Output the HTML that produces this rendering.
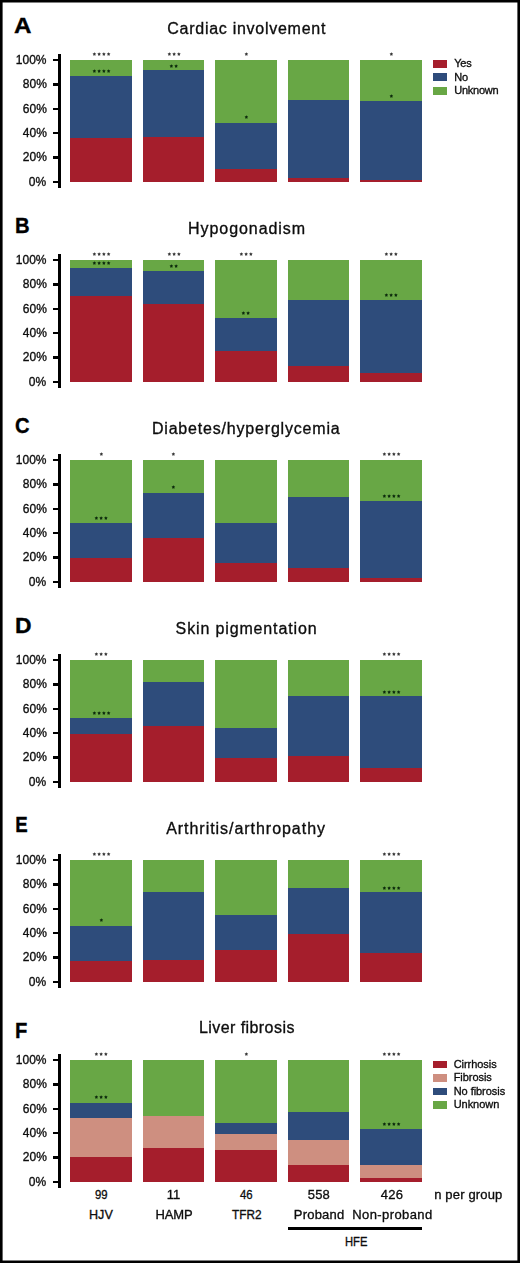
<!DOCTYPE html>
<html><head><meta charset="utf-8"><style>
html,body{margin:0;padding:0;background:#fff;}
body{width:520px;height:1263px;position:relative;overflow:hidden;font-family:"Liberation Sans", sans-serif;}
.t{position:absolute;white-space:nowrap;-webkit-text-stroke:0.33px currentColor;transform:translateZ(0);}
.r{position:absolute;}
.s{position:absolute;overflow:visible;}
.frame{position:absolute;left:0;top:0;width:520px;height:1263px;box-sizing:border-box;border:2px solid #000;box-shadow:inset 0 0 0 0.6px #000;}
</style></head><body>
<div class="r" style="left:58.30px;top:54.20px;width:2.60px;height:134.10px;background:#000;"></div>
<div class="r" style="left:52.70px;top:59.10px;width:5.80px;height:2.25px;background:#000;"></div>
<div class="r" style="left:52.70px;top:83.40px;width:5.80px;height:2.25px;background:#000;"></div>
<div class="r" style="left:52.70px;top:107.70px;width:5.80px;height:2.25px;background:#000;"></div>
<div class="r" style="left:52.70px;top:132.00px;width:5.80px;height:2.25px;background:#000;"></div>
<div class="r" style="left:52.70px;top:156.30px;width:5.80px;height:2.25px;background:#000;"></div>
<div class="r" style="left:52.70px;top:180.60px;width:5.80px;height:2.25px;background:#000;"></div>
<div class="r" style="left:70.40px;top:59.70px;width:61.50px;height:121.90px;background:#a51e2c;"></div>
<div class="r" style="left:70.40px;top:59.70px;width:61.50px;height:78.20px;background:#2e4c7b;"></div>
<div class="r" style="left:70.40px;top:59.70px;width:61.50px;height:16.80px;background:#68a745;"></div>
<svg class="s" style="left:89.65px;top:50.30px" width="23.00" height="8" fill="#383838"><polygon points="4.38,2.25 4.96,3.34 6.18,3.56 5.33,4.46 5.49,5.69 4.38,5.15 3.26,5.69 3.42,4.46 2.57,3.56 3.79,3.34"/><polygon points="9.12,2.25 9.71,3.34 10.93,3.56 10.08,4.46 10.24,5.69 9.12,5.15 8.01,5.69 8.17,4.46 7.32,3.56 8.54,3.34"/><polygon points="13.88,2.25 14.46,3.34 15.68,3.56 14.83,4.46 14.99,5.69 13.88,5.15 12.76,5.69 12.92,4.46 12.07,3.56 13.29,3.34"/><polygon points="18.62,2.25 19.21,3.34 20.43,3.56 19.58,4.46 19.74,5.69 18.62,5.15 17.51,5.69 17.67,4.46 16.82,3.56 18.04,3.34"/></svg>
<svg class="s" style="left:89.65px;top:67.20px" width="23.00" height="8" fill="#0c2a0c"><polygon points="4.38,2.25 4.96,3.34 6.18,3.56 5.33,4.46 5.49,5.69 4.38,5.15 3.26,5.69 3.42,4.46 2.57,3.56 3.79,3.34"/><polygon points="9.12,2.25 9.71,3.34 10.93,3.56 10.08,4.46 10.24,5.69 9.12,5.15 8.01,5.69 8.17,4.46 7.32,3.56 8.54,3.34"/><polygon points="13.88,2.25 14.46,3.34 15.68,3.56 14.83,4.46 14.99,5.69 13.88,5.15 12.76,5.69 12.92,4.46 12.07,3.56 13.29,3.34"/><polygon points="18.62,2.25 19.21,3.34 20.43,3.56 19.58,4.46 19.74,5.69 18.62,5.15 17.51,5.69 17.67,4.46 16.82,3.56 18.04,3.34"/></svg>
<div class="r" style="left:142.90px;top:59.70px;width:61.50px;height:121.90px;background:#a51e2c;"></div>
<div class="r" style="left:142.90px;top:59.70px;width:61.50px;height:77.70px;background:#2e4c7b;"></div>
<div class="r" style="left:142.90px;top:59.70px;width:61.50px;height:10.70px;background:#68a745;"></div>
<svg class="s" style="left:164.53px;top:50.30px" width="18.25" height="8" fill="#383838"><polygon points="4.38,2.25 4.96,3.34 6.18,3.56 5.33,4.46 5.49,5.69 4.38,5.15 3.26,5.69 3.42,4.46 2.57,3.56 3.79,3.34"/><polygon points="9.12,2.25 9.71,3.34 10.93,3.56 10.08,4.46 10.24,5.69 9.12,5.15 8.01,5.69 8.17,4.46 7.32,3.56 8.54,3.34"/><polygon points="13.88,2.25 14.46,3.34 15.68,3.56 14.83,4.46 14.99,5.69 13.88,5.15 12.76,5.69 12.92,4.46 12.07,3.56 13.29,3.34"/></svg>
<svg class="s" style="left:166.90px;top:61.50px" width="13.50" height="8" fill="#0c2a0c"><polygon points="4.38,2.25 4.96,3.34 6.18,3.56 5.33,4.46 5.49,5.69 4.38,5.15 3.26,5.69 3.42,4.46 2.57,3.56 3.79,3.34"/><polygon points="9.12,2.25 9.71,3.34 10.93,3.56 10.08,4.46 10.24,5.69 9.12,5.15 8.01,5.69 8.17,4.46 7.32,3.56 8.54,3.34"/></svg>
<div class="r" style="left:215.40px;top:59.70px;width:61.50px;height:121.90px;background:#a51e2c;"></div>
<div class="r" style="left:215.40px;top:59.70px;width:61.50px;height:109.10px;background:#2e4c7b;"></div>
<div class="r" style="left:215.40px;top:59.70px;width:61.50px;height:63.50px;background:#68a745;"></div>
<svg class="s" style="left:241.78px;top:50.30px" width="8.75" height="8" fill="#383838"><polygon points="4.38,2.25 4.96,3.34 6.18,3.56 5.33,4.46 5.49,5.69 4.38,5.15 3.26,5.69 3.42,4.46 2.57,3.56 3.79,3.34"/></svg>
<svg class="s" style="left:241.78px;top:113.30px" width="8.75" height="8" fill="#0c2a0c"><polygon points="4.38,2.25 4.96,3.34 6.18,3.56 5.33,4.46 5.49,5.69 4.38,5.15 3.26,5.69 3.42,4.46 2.57,3.56 3.79,3.34"/></svg>
<div class="r" style="left:287.90px;top:59.70px;width:61.50px;height:121.90px;background:#a51e2c;"></div>
<div class="r" style="left:287.90px;top:59.70px;width:61.50px;height:118.40px;background:#2e4c7b;"></div>
<div class="r" style="left:287.90px;top:59.70px;width:61.50px;height:40.70px;background:#68a745;"></div>
<div class="r" style="left:360.40px;top:59.70px;width:61.50px;height:121.90px;background:#a51e2c;"></div>
<div class="r" style="left:360.40px;top:59.70px;width:61.50px;height:120.30px;background:#2e4c7b;"></div>
<div class="r" style="left:360.40px;top:59.70px;width:61.50px;height:41.10px;background:#68a745;"></div>
<svg class="s" style="left:386.77px;top:50.30px" width="8.75" height="8" fill="#383838"><polygon points="4.38,2.25 4.96,3.34 6.18,3.56 5.33,4.46 5.49,5.69 4.38,5.15 3.26,5.69 3.42,4.46 2.57,3.56 3.79,3.34"/></svg>
<svg class="s" style="left:386.77px;top:92.20px" width="8.75" height="8" fill="#0c2a0c"><polygon points="4.38,2.25 4.96,3.34 6.18,3.56 5.33,4.46 5.49,5.69 4.38,5.15 3.26,5.69 3.42,4.46 2.57,3.56 3.79,3.34"/></svg>
<div class="r" style="left:432.50px;top:60.00px;width:14.40px;height:7.70px;background:#a51e2c;"></div>
<div class="r" style="left:432.50px;top:73.45px;width:14.40px;height:7.70px;background:#2e4c7b;"></div>
<div class="r" style="left:432.50px;top:86.90px;width:14.40px;height:7.70px;background:#68a745;"></div>
<div class="r" style="left:58.30px;top:254.20px;width:2.60px;height:134.10px;background:#000;"></div>
<div class="r" style="left:52.70px;top:259.10px;width:5.80px;height:2.25px;background:#000;"></div>
<div class="r" style="left:52.70px;top:283.40px;width:5.80px;height:2.25px;background:#000;"></div>
<div class="r" style="left:52.70px;top:307.70px;width:5.80px;height:2.25px;background:#000;"></div>
<div class="r" style="left:52.70px;top:332.00px;width:5.80px;height:2.25px;background:#000;"></div>
<div class="r" style="left:52.70px;top:356.30px;width:5.80px;height:2.25px;background:#000;"></div>
<div class="r" style="left:52.70px;top:380.60px;width:5.80px;height:2.25px;background:#000;"></div>
<div class="r" style="left:70.40px;top:259.70px;width:61.50px;height:121.90px;background:#a51e2c;"></div>
<div class="r" style="left:70.40px;top:259.70px;width:61.50px;height:36.50px;background:#2e4c7b;"></div>
<div class="r" style="left:70.40px;top:259.70px;width:61.50px;height:8.40px;background:#68a745;"></div>
<svg class="s" style="left:89.65px;top:250.30px" width="23.00" height="8" fill="#383838"><polygon points="4.38,2.25 4.96,3.34 6.18,3.56 5.33,4.46 5.49,5.69 4.38,5.15 3.26,5.69 3.42,4.46 2.57,3.56 3.79,3.34"/><polygon points="9.12,2.25 9.71,3.34 10.93,3.56 10.08,4.46 10.24,5.69 9.12,5.15 8.01,5.69 8.17,4.46 7.32,3.56 8.54,3.34"/><polygon points="13.88,2.25 14.46,3.34 15.68,3.56 14.83,4.46 14.99,5.69 13.88,5.15 12.76,5.69 12.92,4.46 12.07,3.56 13.29,3.34"/><polygon points="18.62,2.25 19.21,3.34 20.43,3.56 19.58,4.46 19.74,5.69 18.62,5.15 17.51,5.69 17.67,4.46 16.82,3.56 18.04,3.34"/></svg>
<svg class="s" style="left:89.65px;top:258.50px" width="23.00" height="8" fill="#0c2a0c"><polygon points="4.38,2.25 4.96,3.34 6.18,3.56 5.33,4.46 5.49,5.69 4.38,5.15 3.26,5.69 3.42,4.46 2.57,3.56 3.79,3.34"/><polygon points="9.12,2.25 9.71,3.34 10.93,3.56 10.08,4.46 10.24,5.69 9.12,5.15 8.01,5.69 8.17,4.46 7.32,3.56 8.54,3.34"/><polygon points="13.88,2.25 14.46,3.34 15.68,3.56 14.83,4.46 14.99,5.69 13.88,5.15 12.76,5.69 12.92,4.46 12.07,3.56 13.29,3.34"/><polygon points="18.62,2.25 19.21,3.34 20.43,3.56 19.58,4.46 19.74,5.69 18.62,5.15 17.51,5.69 17.67,4.46 16.82,3.56 18.04,3.34"/></svg>
<div class="r" style="left:142.90px;top:259.70px;width:61.50px;height:121.90px;background:#a51e2c;"></div>
<div class="r" style="left:142.90px;top:259.70px;width:61.50px;height:44.80px;background:#2e4c7b;"></div>
<div class="r" style="left:142.90px;top:259.70px;width:61.50px;height:11.50px;background:#68a745;"></div>
<svg class="s" style="left:164.53px;top:250.30px" width="18.25" height="8" fill="#383838"><polygon points="4.38,2.25 4.96,3.34 6.18,3.56 5.33,4.46 5.49,5.69 4.38,5.15 3.26,5.69 3.42,4.46 2.57,3.56 3.79,3.34"/><polygon points="9.12,2.25 9.71,3.34 10.93,3.56 10.08,4.46 10.24,5.69 9.12,5.15 8.01,5.69 8.17,4.46 7.32,3.56 8.54,3.34"/><polygon points="13.88,2.25 14.46,3.34 15.68,3.56 14.83,4.46 14.99,5.69 13.88,5.15 12.76,5.69 12.92,4.46 12.07,3.56 13.29,3.34"/></svg>
<svg class="s" style="left:166.90px;top:261.50px" width="13.50" height="8" fill="#0c2a0c"><polygon points="4.38,2.25 4.96,3.34 6.18,3.56 5.33,4.46 5.49,5.69 4.38,5.15 3.26,5.69 3.42,4.46 2.57,3.56 3.79,3.34"/><polygon points="9.12,2.25 9.71,3.34 10.93,3.56 10.08,4.46 10.24,5.69 9.12,5.15 8.01,5.69 8.17,4.46 7.32,3.56 8.54,3.34"/></svg>
<div class="r" style="left:215.40px;top:259.70px;width:61.50px;height:121.90px;background:#a51e2c;"></div>
<div class="r" style="left:215.40px;top:259.70px;width:61.50px;height:91.50px;background:#2e4c7b;"></div>
<div class="r" style="left:215.40px;top:259.70px;width:61.50px;height:58.80px;background:#68a745;"></div>
<svg class="s" style="left:237.03px;top:250.30px" width="18.25" height="8" fill="#383838"><polygon points="4.38,2.25 4.96,3.34 6.18,3.56 5.33,4.46 5.49,5.69 4.38,5.15 3.26,5.69 3.42,4.46 2.57,3.56 3.79,3.34"/><polygon points="9.12,2.25 9.71,3.34 10.93,3.56 10.08,4.46 10.24,5.69 9.12,5.15 8.01,5.69 8.17,4.46 7.32,3.56 8.54,3.34"/><polygon points="13.88,2.25 14.46,3.34 15.68,3.56 14.83,4.46 14.99,5.69 13.88,5.15 12.76,5.69 12.92,4.46 12.07,3.56 13.29,3.34"/></svg>
<svg class="s" style="left:239.40px;top:308.50px" width="13.50" height="8" fill="#0c2a0c"><polygon points="4.38,2.25 4.96,3.34 6.18,3.56 5.33,4.46 5.49,5.69 4.38,5.15 3.26,5.69 3.42,4.46 2.57,3.56 3.79,3.34"/><polygon points="9.12,2.25 9.71,3.34 10.93,3.56 10.08,4.46 10.24,5.69 9.12,5.15 8.01,5.69 8.17,4.46 7.32,3.56 8.54,3.34"/></svg>
<div class="r" style="left:287.90px;top:259.70px;width:61.50px;height:121.90px;background:#a51e2c;"></div>
<div class="r" style="left:287.90px;top:259.70px;width:61.50px;height:106.10px;background:#2e4c7b;"></div>
<div class="r" style="left:287.90px;top:259.70px;width:61.50px;height:40.70px;background:#68a745;"></div>
<div class="r" style="left:360.40px;top:259.70px;width:61.50px;height:121.90px;background:#a51e2c;"></div>
<div class="r" style="left:360.40px;top:259.70px;width:61.50px;height:113.10px;background:#2e4c7b;"></div>
<div class="r" style="left:360.40px;top:259.70px;width:61.50px;height:40.60px;background:#68a745;"></div>
<svg class="s" style="left:382.02px;top:250.30px" width="18.25" height="8" fill="#383838"><polygon points="4.38,2.25 4.96,3.34 6.18,3.56 5.33,4.46 5.49,5.69 4.38,5.15 3.26,5.69 3.42,4.46 2.57,3.56 3.79,3.34"/><polygon points="9.12,2.25 9.71,3.34 10.93,3.56 10.08,4.46 10.24,5.69 9.12,5.15 8.01,5.69 8.17,4.46 7.32,3.56 8.54,3.34"/><polygon points="13.88,2.25 14.46,3.34 15.68,3.56 14.83,4.46 14.99,5.69 13.88,5.15 12.76,5.69 12.92,4.46 12.07,3.56 13.29,3.34"/></svg>
<svg class="s" style="left:382.02px;top:290.80px" width="18.25" height="8" fill="#0c2a0c"><polygon points="4.38,2.25 4.96,3.34 6.18,3.56 5.33,4.46 5.49,5.69 4.38,5.15 3.26,5.69 3.42,4.46 2.57,3.56 3.79,3.34"/><polygon points="9.12,2.25 9.71,3.34 10.93,3.56 10.08,4.46 10.24,5.69 9.12,5.15 8.01,5.69 8.17,4.46 7.32,3.56 8.54,3.34"/><polygon points="13.88,2.25 14.46,3.34 15.68,3.56 14.83,4.46 14.99,5.69 13.88,5.15 12.76,5.69 12.92,4.46 12.07,3.56 13.29,3.34"/></svg>
<div class="r" style="left:58.30px;top:454.20px;width:2.60px;height:134.10px;background:#000;"></div>
<div class="r" style="left:52.70px;top:459.10px;width:5.80px;height:2.25px;background:#000;"></div>
<div class="r" style="left:52.70px;top:483.40px;width:5.80px;height:2.25px;background:#000;"></div>
<div class="r" style="left:52.70px;top:507.70px;width:5.80px;height:2.25px;background:#000;"></div>
<div class="r" style="left:52.70px;top:532.00px;width:5.80px;height:2.25px;background:#000;"></div>
<div class="r" style="left:52.70px;top:556.30px;width:5.80px;height:2.25px;background:#000;"></div>
<div class="r" style="left:52.70px;top:580.60px;width:5.80px;height:2.25px;background:#000;"></div>
<div class="r" style="left:70.40px;top:459.70px;width:61.50px;height:121.90px;background:#a51e2c;"></div>
<div class="r" style="left:70.40px;top:459.70px;width:61.50px;height:98.80px;background:#2e4c7b;"></div>
<div class="r" style="left:70.40px;top:459.70px;width:61.50px;height:63.50px;background:#68a745;"></div>
<svg class="s" style="left:96.78px;top:450.30px" width="8.75" height="8" fill="#383838"><polygon points="4.38,2.25 4.96,3.34 6.18,3.56 5.33,4.46 5.49,5.69 4.38,5.15 3.26,5.69 3.42,4.46 2.57,3.56 3.79,3.34"/></svg>
<svg class="s" style="left:92.03px;top:514.00px" width="18.25" height="8" fill="#0c2a0c"><polygon points="4.38,2.25 4.96,3.34 6.18,3.56 5.33,4.46 5.49,5.69 4.38,5.15 3.26,5.69 3.42,4.46 2.57,3.56 3.79,3.34"/><polygon points="9.12,2.25 9.71,3.34 10.93,3.56 10.08,4.46 10.24,5.69 9.12,5.15 8.01,5.69 8.17,4.46 7.32,3.56 8.54,3.34"/><polygon points="13.88,2.25 14.46,3.34 15.68,3.56 14.83,4.46 14.99,5.69 13.88,5.15 12.76,5.69 12.92,4.46 12.07,3.56 13.29,3.34"/></svg>
<div class="r" style="left:142.90px;top:459.70px;width:61.50px;height:121.90px;background:#a51e2c;"></div>
<div class="r" style="left:142.90px;top:459.70px;width:61.50px;height:78.40px;background:#2e4c7b;"></div>
<div class="r" style="left:142.90px;top:459.70px;width:61.50px;height:33.00px;background:#68a745;"></div>
<svg class="s" style="left:169.28px;top:450.30px" width="8.75" height="8" fill="#383838"><polygon points="4.38,2.25 4.96,3.34 6.18,3.56 5.33,4.46 5.49,5.69 4.38,5.15 3.26,5.69 3.42,4.46 2.57,3.56 3.79,3.34"/></svg>
<svg class="s" style="left:169.28px;top:483.40px" width="8.75" height="8" fill="#0c2a0c"><polygon points="4.38,2.25 4.96,3.34 6.18,3.56 5.33,4.46 5.49,5.69 4.38,5.15 3.26,5.69 3.42,4.46 2.57,3.56 3.79,3.34"/></svg>
<div class="r" style="left:215.40px;top:459.70px;width:61.50px;height:121.90px;background:#a51e2c;"></div>
<div class="r" style="left:215.40px;top:459.70px;width:61.50px;height:103.80px;background:#2e4c7b;"></div>
<div class="r" style="left:215.40px;top:459.70px;width:61.50px;height:63.50px;background:#68a745;"></div>
<div class="r" style="left:287.90px;top:459.70px;width:61.50px;height:121.90px;background:#a51e2c;"></div>
<div class="r" style="left:287.90px;top:459.70px;width:61.50px;height:108.80px;background:#2e4c7b;"></div>
<div class="r" style="left:287.90px;top:459.70px;width:61.50px;height:37.10px;background:#68a745;"></div>
<div class="r" style="left:360.40px;top:459.70px;width:61.50px;height:121.90px;background:#a51e2c;"></div>
<div class="r" style="left:360.40px;top:459.70px;width:61.50px;height:118.40px;background:#2e4c7b;"></div>
<div class="r" style="left:360.40px;top:459.70px;width:61.50px;height:41.30px;background:#68a745;"></div>
<svg class="s" style="left:379.65px;top:450.30px" width="23.00" height="8" fill="#383838"><polygon points="4.38,2.25 4.96,3.34 6.18,3.56 5.33,4.46 5.49,5.69 4.38,5.15 3.26,5.69 3.42,4.46 2.57,3.56 3.79,3.34"/><polygon points="9.12,2.25 9.71,3.34 10.93,3.56 10.08,4.46 10.24,5.69 9.12,5.15 8.01,5.69 8.17,4.46 7.32,3.56 8.54,3.34"/><polygon points="13.88,2.25 14.46,3.34 15.68,3.56 14.83,4.46 14.99,5.69 13.88,5.15 12.76,5.69 12.92,4.46 12.07,3.56 13.29,3.34"/><polygon points="18.62,2.25 19.21,3.34 20.43,3.56 19.58,4.46 19.74,5.69 18.62,5.15 17.51,5.69 17.67,4.46 16.82,3.56 18.04,3.34"/></svg>
<svg class="s" style="left:379.65px;top:491.90px" width="23.00" height="8" fill="#0c2a0c"><polygon points="4.38,2.25 4.96,3.34 6.18,3.56 5.33,4.46 5.49,5.69 4.38,5.15 3.26,5.69 3.42,4.46 2.57,3.56 3.79,3.34"/><polygon points="9.12,2.25 9.71,3.34 10.93,3.56 10.08,4.46 10.24,5.69 9.12,5.15 8.01,5.69 8.17,4.46 7.32,3.56 8.54,3.34"/><polygon points="13.88,2.25 14.46,3.34 15.68,3.56 14.83,4.46 14.99,5.69 13.88,5.15 12.76,5.69 12.92,4.46 12.07,3.56 13.29,3.34"/><polygon points="18.62,2.25 19.21,3.34 20.43,3.56 19.58,4.46 19.74,5.69 18.62,5.15 17.51,5.69 17.67,4.46 16.82,3.56 18.04,3.34"/></svg>
<div class="r" style="left:58.30px;top:654.20px;width:2.60px;height:134.10px;background:#000;"></div>
<div class="r" style="left:52.70px;top:659.10px;width:5.80px;height:2.25px;background:#000;"></div>
<div class="r" style="left:52.70px;top:683.40px;width:5.80px;height:2.25px;background:#000;"></div>
<div class="r" style="left:52.70px;top:707.70px;width:5.80px;height:2.25px;background:#000;"></div>
<div class="r" style="left:52.70px;top:732.00px;width:5.80px;height:2.25px;background:#000;"></div>
<div class="r" style="left:52.70px;top:756.30px;width:5.80px;height:2.25px;background:#000;"></div>
<div class="r" style="left:52.70px;top:780.60px;width:5.80px;height:2.25px;background:#000;"></div>
<div class="r" style="left:70.40px;top:659.70px;width:61.50px;height:121.90px;background:#a51e2c;"></div>
<div class="r" style="left:70.40px;top:659.70px;width:61.50px;height:74.20px;background:#2e4c7b;"></div>
<div class="r" style="left:70.40px;top:659.70px;width:61.50px;height:58.80px;background:#68a745;"></div>
<svg class="s" style="left:92.03px;top:650.30px" width="18.25" height="8" fill="#383838"><polygon points="4.38,2.25 4.96,3.34 6.18,3.56 5.33,4.46 5.49,5.69 4.38,5.15 3.26,5.69 3.42,4.46 2.57,3.56 3.79,3.34"/><polygon points="9.12,2.25 9.71,3.34 10.93,3.56 10.08,4.46 10.24,5.69 9.12,5.15 8.01,5.69 8.17,4.46 7.32,3.56 8.54,3.34"/><polygon points="13.88,2.25 14.46,3.34 15.68,3.56 14.83,4.46 14.99,5.69 13.88,5.15 12.76,5.69 12.92,4.46 12.07,3.56 13.29,3.34"/></svg>
<svg class="s" style="left:89.65px;top:709.30px" width="23.00" height="8" fill="#0c2a0c"><polygon points="4.38,2.25 4.96,3.34 6.18,3.56 5.33,4.46 5.49,5.69 4.38,5.15 3.26,5.69 3.42,4.46 2.57,3.56 3.79,3.34"/><polygon points="9.12,2.25 9.71,3.34 10.93,3.56 10.08,4.46 10.24,5.69 9.12,5.15 8.01,5.69 8.17,4.46 7.32,3.56 8.54,3.34"/><polygon points="13.88,2.25 14.46,3.34 15.68,3.56 14.83,4.46 14.99,5.69 13.88,5.15 12.76,5.69 12.92,4.46 12.07,3.56 13.29,3.34"/><polygon points="18.62,2.25 19.21,3.34 20.43,3.56 19.58,4.46 19.74,5.69 18.62,5.15 17.51,5.69 17.67,4.46 16.82,3.56 18.04,3.34"/></svg>
<div class="r" style="left:142.90px;top:659.70px;width:61.50px;height:121.90px;background:#a51e2c;"></div>
<div class="r" style="left:142.90px;top:659.70px;width:61.50px;height:66.50px;background:#2e4c7b;"></div>
<div class="r" style="left:142.90px;top:659.70px;width:61.50px;height:22.70px;background:#68a745;"></div>
<div class="r" style="left:215.40px;top:659.70px;width:61.50px;height:121.90px;background:#a51e2c;"></div>
<div class="r" style="left:215.40px;top:659.70px;width:61.50px;height:98.70px;background:#2e4c7b;"></div>
<div class="r" style="left:215.40px;top:659.70px;width:61.50px;height:68.80px;background:#68a745;"></div>
<div class="r" style="left:287.90px;top:659.70px;width:61.50px;height:121.90px;background:#a51e2c;"></div>
<div class="r" style="left:287.90px;top:659.70px;width:61.50px;height:96.10px;background:#2e4c7b;"></div>
<div class="r" style="left:287.90px;top:659.70px;width:61.50px;height:36.50px;background:#68a745;"></div>
<div class="r" style="left:360.40px;top:659.70px;width:61.50px;height:121.90px;background:#a51e2c;"></div>
<div class="r" style="left:360.40px;top:659.70px;width:61.50px;height:108.50px;background:#2e4c7b;"></div>
<div class="r" style="left:360.40px;top:659.70px;width:61.50px;height:36.50px;background:#68a745;"></div>
<svg class="s" style="left:379.65px;top:650.30px" width="23.00" height="8" fill="#383838"><polygon points="4.38,2.25 4.96,3.34 6.18,3.56 5.33,4.46 5.49,5.69 4.38,5.15 3.26,5.69 3.42,4.46 2.57,3.56 3.79,3.34"/><polygon points="9.12,2.25 9.71,3.34 10.93,3.56 10.08,4.46 10.24,5.69 9.12,5.15 8.01,5.69 8.17,4.46 7.32,3.56 8.54,3.34"/><polygon points="13.88,2.25 14.46,3.34 15.68,3.56 14.83,4.46 14.99,5.69 13.88,5.15 12.76,5.69 12.92,4.46 12.07,3.56 13.29,3.34"/><polygon points="18.62,2.25 19.21,3.34 20.43,3.56 19.58,4.46 19.74,5.69 18.62,5.15 17.51,5.69 17.67,4.46 16.82,3.56 18.04,3.34"/></svg>
<svg class="s" style="left:379.65px;top:687.60px" width="23.00" height="8" fill="#0c2a0c"><polygon points="4.38,2.25 4.96,3.34 6.18,3.56 5.33,4.46 5.49,5.69 4.38,5.15 3.26,5.69 3.42,4.46 2.57,3.56 3.79,3.34"/><polygon points="9.12,2.25 9.71,3.34 10.93,3.56 10.08,4.46 10.24,5.69 9.12,5.15 8.01,5.69 8.17,4.46 7.32,3.56 8.54,3.34"/><polygon points="13.88,2.25 14.46,3.34 15.68,3.56 14.83,4.46 14.99,5.69 13.88,5.15 12.76,5.69 12.92,4.46 12.07,3.56 13.29,3.34"/><polygon points="18.62,2.25 19.21,3.34 20.43,3.56 19.58,4.46 19.74,5.69 18.62,5.15 17.51,5.69 17.67,4.46 16.82,3.56 18.04,3.34"/></svg>
<div class="r" style="left:58.30px;top:854.20px;width:2.60px;height:134.10px;background:#000;"></div>
<div class="r" style="left:52.70px;top:859.10px;width:5.80px;height:2.25px;background:#000;"></div>
<div class="r" style="left:52.70px;top:883.40px;width:5.80px;height:2.25px;background:#000;"></div>
<div class="r" style="left:52.70px;top:907.70px;width:5.80px;height:2.25px;background:#000;"></div>
<div class="r" style="left:52.70px;top:932.00px;width:5.80px;height:2.25px;background:#000;"></div>
<div class="r" style="left:52.70px;top:956.30px;width:5.80px;height:2.25px;background:#000;"></div>
<div class="r" style="left:52.70px;top:980.60px;width:5.80px;height:2.25px;background:#000;"></div>
<div class="r" style="left:70.40px;top:859.70px;width:61.50px;height:121.90px;background:#a51e2c;"></div>
<div class="r" style="left:70.40px;top:859.70px;width:61.50px;height:101.50px;background:#2e4c7b;"></div>
<div class="r" style="left:70.40px;top:859.70px;width:61.50px;height:66.10px;background:#68a745;"></div>
<svg class="s" style="left:89.65px;top:850.30px" width="23.00" height="8" fill="#383838"><polygon points="4.38,2.25 4.96,3.34 6.18,3.56 5.33,4.46 5.49,5.69 4.38,5.15 3.26,5.69 3.42,4.46 2.57,3.56 3.79,3.34"/><polygon points="9.12,2.25 9.71,3.34 10.93,3.56 10.08,4.46 10.24,5.69 9.12,5.15 8.01,5.69 8.17,4.46 7.32,3.56 8.54,3.34"/><polygon points="13.88,2.25 14.46,3.34 15.68,3.56 14.83,4.46 14.99,5.69 13.88,5.15 12.76,5.69 12.92,4.46 12.07,3.56 13.29,3.34"/><polygon points="18.62,2.25 19.21,3.34 20.43,3.56 19.58,4.46 19.74,5.69 18.62,5.15 17.51,5.69 17.67,4.46 16.82,3.56 18.04,3.34"/></svg>
<svg class="s" style="left:96.78px;top:916.10px" width="8.75" height="8" fill="#0c2a0c"><polygon points="4.38,2.25 4.96,3.34 6.18,3.56 5.33,4.46 5.49,5.69 4.38,5.15 3.26,5.69 3.42,4.46 2.57,3.56 3.79,3.34"/></svg>
<div class="r" style="left:142.90px;top:859.70px;width:61.50px;height:121.90px;background:#a51e2c;"></div>
<div class="r" style="left:142.90px;top:859.70px;width:61.50px;height:100.20px;background:#2e4c7b;"></div>
<div class="r" style="left:142.90px;top:859.70px;width:61.50px;height:32.70px;background:#68a745;"></div>
<div class="r" style="left:215.40px;top:859.70px;width:61.50px;height:121.90px;background:#a51e2c;"></div>
<div class="r" style="left:215.40px;top:859.70px;width:61.50px;height:90.70px;background:#2e4c7b;"></div>
<div class="r" style="left:215.40px;top:859.70px;width:61.50px;height:55.60px;background:#68a745;"></div>
<div class="r" style="left:287.90px;top:859.70px;width:61.50px;height:121.90px;background:#a51e2c;"></div>
<div class="r" style="left:287.90px;top:859.70px;width:61.50px;height:74.10px;background:#2e4c7b;"></div>
<div class="r" style="left:287.90px;top:859.70px;width:61.50px;height:28.10px;background:#68a745;"></div>
<div class="r" style="left:360.40px;top:859.70px;width:61.50px;height:121.90px;background:#a51e2c;"></div>
<div class="r" style="left:360.40px;top:859.70px;width:61.50px;height:93.00px;background:#2e4c7b;"></div>
<div class="r" style="left:360.40px;top:859.70px;width:61.50px;height:32.30px;background:#68a745;"></div>
<svg class="s" style="left:379.65px;top:850.30px" width="23.00" height="8" fill="#383838"><polygon points="4.38,2.25 4.96,3.34 6.18,3.56 5.33,4.46 5.49,5.69 4.38,5.15 3.26,5.69 3.42,4.46 2.57,3.56 3.79,3.34"/><polygon points="9.12,2.25 9.71,3.34 10.93,3.56 10.08,4.46 10.24,5.69 9.12,5.15 8.01,5.69 8.17,4.46 7.32,3.56 8.54,3.34"/><polygon points="13.88,2.25 14.46,3.34 15.68,3.56 14.83,4.46 14.99,5.69 13.88,5.15 12.76,5.69 12.92,4.46 12.07,3.56 13.29,3.34"/><polygon points="18.62,2.25 19.21,3.34 20.43,3.56 19.58,4.46 19.74,5.69 18.62,5.15 17.51,5.69 17.67,4.46 16.82,3.56 18.04,3.34"/></svg>
<svg class="s" style="left:379.65px;top:883.60px" width="23.00" height="8" fill="#0c2a0c"><polygon points="4.38,2.25 4.96,3.34 6.18,3.56 5.33,4.46 5.49,5.69 4.38,5.15 3.26,5.69 3.42,4.46 2.57,3.56 3.79,3.34"/><polygon points="9.12,2.25 9.71,3.34 10.93,3.56 10.08,4.46 10.24,5.69 9.12,5.15 8.01,5.69 8.17,4.46 7.32,3.56 8.54,3.34"/><polygon points="13.88,2.25 14.46,3.34 15.68,3.56 14.83,4.46 14.99,5.69 13.88,5.15 12.76,5.69 12.92,4.46 12.07,3.56 13.29,3.34"/><polygon points="18.62,2.25 19.21,3.34 20.43,3.56 19.58,4.46 19.74,5.69 18.62,5.15 17.51,5.69 17.67,4.46 16.82,3.56 18.04,3.34"/></svg>
<div class="r" style="left:58.30px;top:1054.20px;width:2.60px;height:134.10px;background:#000;"></div>
<div class="r" style="left:52.70px;top:1059.10px;width:5.80px;height:2.25px;background:#000;"></div>
<div class="r" style="left:52.70px;top:1083.40px;width:5.80px;height:2.25px;background:#000;"></div>
<div class="r" style="left:52.70px;top:1107.70px;width:5.80px;height:2.25px;background:#000;"></div>
<div class="r" style="left:52.70px;top:1132.00px;width:5.80px;height:2.25px;background:#000;"></div>
<div class="r" style="left:52.70px;top:1156.30px;width:5.80px;height:2.25px;background:#000;"></div>
<div class="r" style="left:52.70px;top:1180.60px;width:5.80px;height:2.25px;background:#000;"></div>
<div class="r" style="left:70.40px;top:1059.70px;width:61.50px;height:121.90px;background:#a51e2c;"></div>
<div class="r" style="left:70.40px;top:1059.70px;width:61.50px;height:97.60px;background:#ce8f80;"></div>
<div class="r" style="left:70.40px;top:1059.70px;width:61.50px;height:58.10px;background:#2e4c7b;"></div>
<div class="r" style="left:70.40px;top:1059.70px;width:61.50px;height:43.50px;background:#68a745;"></div>
<svg class="s" style="left:92.03px;top:1050.30px" width="18.25" height="8" fill="#383838"><polygon points="4.38,2.25 4.96,3.34 6.18,3.56 5.33,4.46 5.49,5.69 4.38,5.15 3.26,5.69 3.42,4.46 2.57,3.56 3.79,3.34"/><polygon points="9.12,2.25 9.71,3.34 10.93,3.56 10.08,4.46 10.24,5.69 9.12,5.15 8.01,5.69 8.17,4.46 7.32,3.56 8.54,3.34"/><polygon points="13.88,2.25 14.46,3.34 15.68,3.56 14.83,4.46 14.99,5.69 13.88,5.15 12.76,5.69 12.92,4.46 12.07,3.56 13.29,3.34"/></svg>
<svg class="s" style="left:92.03px;top:1093.40px" width="18.25" height="8" fill="#0c2a0c"><polygon points="4.38,2.25 4.96,3.34 6.18,3.56 5.33,4.46 5.49,5.69 4.38,5.15 3.26,5.69 3.42,4.46 2.57,3.56 3.79,3.34"/><polygon points="9.12,2.25 9.71,3.34 10.93,3.56 10.08,4.46 10.24,5.69 9.12,5.15 8.01,5.69 8.17,4.46 7.32,3.56 8.54,3.34"/><polygon points="13.88,2.25 14.46,3.34 15.68,3.56 14.83,4.46 14.99,5.69 13.88,5.15 12.76,5.69 12.92,4.46 12.07,3.56 13.29,3.34"/></svg>
<div class="r" style="left:142.90px;top:1059.70px;width:61.50px;height:121.90px;background:#a51e2c;"></div>
<div class="r" style="left:142.90px;top:1059.70px;width:61.50px;height:88.40px;background:#ce8f80;"></div>
<div class="r" style="left:142.90px;top:1059.70px;width:61.50px;height:56.10px;background:#68a745;"></div>
<div class="r" style="left:215.40px;top:1059.70px;width:61.50px;height:121.90px;background:#a51e2c;"></div>
<div class="r" style="left:215.40px;top:1059.70px;width:61.50px;height:89.90px;background:#ce8f80;"></div>
<div class="r" style="left:215.40px;top:1059.70px;width:61.50px;height:74.10px;background:#2e4c7b;"></div>
<div class="r" style="left:215.40px;top:1059.70px;width:61.50px;height:63.80px;background:#68a745;"></div>
<svg class="s" style="left:241.78px;top:1050.30px" width="8.75" height="8" fill="#383838"><polygon points="4.38,2.25 4.96,3.34 6.18,3.56 5.33,4.46 5.49,5.69 4.38,5.15 3.26,5.69 3.42,4.46 2.57,3.56 3.79,3.34"/></svg>
<div class="r" style="left:287.90px;top:1059.70px;width:61.50px;height:121.90px;background:#a51e2c;"></div>
<div class="r" style="left:287.90px;top:1059.70px;width:61.50px;height:105.30px;background:#ce8f80;"></div>
<div class="r" style="left:287.90px;top:1059.70px;width:61.50px;height:80.20px;background:#2e4c7b;"></div>
<div class="r" style="left:287.90px;top:1059.70px;width:61.50px;height:51.90px;background:#68a745;"></div>
<div class="r" style="left:360.40px;top:1059.70px;width:61.50px;height:121.90px;background:#a51e2c;"></div>
<div class="r" style="left:360.40px;top:1059.70px;width:61.50px;height:118.20px;background:#ce8f80;"></div>
<div class="r" style="left:360.40px;top:1059.70px;width:61.50px;height:105.20px;background:#2e4c7b;"></div>
<div class="r" style="left:360.40px;top:1059.70px;width:61.50px;height:69.40px;background:#68a745;"></div>
<svg class="s" style="left:379.65px;top:1050.30px" width="23.00" height="8" fill="#383838"><polygon points="4.38,2.25 4.96,3.34 6.18,3.56 5.33,4.46 5.49,5.69 4.38,5.15 3.26,5.69 3.42,4.46 2.57,3.56 3.79,3.34"/><polygon points="9.12,2.25 9.71,3.34 10.93,3.56 10.08,4.46 10.24,5.69 9.12,5.15 8.01,5.69 8.17,4.46 7.32,3.56 8.54,3.34"/><polygon points="13.88,2.25 14.46,3.34 15.68,3.56 14.83,4.46 14.99,5.69 13.88,5.15 12.76,5.69 12.92,4.46 12.07,3.56 13.29,3.34"/><polygon points="18.62,2.25 19.21,3.34 20.43,3.56 19.58,4.46 19.74,5.69 18.62,5.15 17.51,5.69 17.67,4.46 16.82,3.56 18.04,3.34"/></svg>
<svg class="s" style="left:379.65px;top:1119.90px" width="23.00" height="8" fill="#0c2a0c"><polygon points="4.38,2.25 4.96,3.34 6.18,3.56 5.33,4.46 5.49,5.69 4.38,5.15 3.26,5.69 3.42,4.46 2.57,3.56 3.79,3.34"/><polygon points="9.12,2.25 9.71,3.34 10.93,3.56 10.08,4.46 10.24,5.69 9.12,5.15 8.01,5.69 8.17,4.46 7.32,3.56 8.54,3.34"/><polygon points="13.88,2.25 14.46,3.34 15.68,3.56 14.83,4.46 14.99,5.69 13.88,5.15 12.76,5.69 12.92,4.46 12.07,3.56 13.29,3.34"/><polygon points="18.62,2.25 19.21,3.34 20.43,3.56 19.58,4.46 19.74,5.69 18.62,5.15 17.51,5.69 17.67,4.46 16.82,3.56 18.04,3.34"/></svg>
<div class="r" style="left:432.50px;top:1060.60px;width:14.40px;height:7.70px;background:#a51e2c;"></div>
<div class="r" style="left:432.50px;top:1074.05px;width:14.40px;height:7.70px;background:#ce8f80;"></div>
<div class="r" style="left:432.50px;top:1087.50px;width:14.40px;height:7.70px;background:#2e4c7b;"></div>
<div class="r" style="left:432.50px;top:1100.95px;width:14.40px;height:7.70px;background:#68a745;"></div>
<div class="r" style="left:287.70px;top:1227.00px;width:134.50px;height:2.50px;background:#000;"></div>
<div class="t" style="left:14.30px;top:14.78px;font-size:22px;line-height:22px;font-weight:bold;letter-spacing:0.000px;color:#000;transform:scaleX(1.100);transform-origin:0px 0;">A</div>
<div class="t" style="left:167.30px;top:20.66px;font-size:16px;line-height:16px;letter-spacing:0.728px;color:#0d0d0d;">Cardiac involvement</div>
<div class="t" style="left:15.80px;top:54.14px;font-size:12px;line-height:12px;letter-spacing:0.000px;color:#0d0d0d;">100%</div>
<div class="t" style="left:22.80px;top:78.44px;font-size:12px;line-height:12px;letter-spacing:0.000px;color:#0d0d0d;">80%</div>
<div class="t" style="left:22.80px;top:102.74px;font-size:12px;line-height:12px;letter-spacing:0.000px;color:#0d0d0d;">60%</div>
<div class="t" style="left:22.80px;top:127.04px;font-size:12px;line-height:12px;letter-spacing:0.000px;color:#0d0d0d;">40%</div>
<div class="t" style="left:22.80px;top:151.34px;font-size:12px;line-height:12px;letter-spacing:0.000px;color:#0d0d0d;">20%</div>
<div class="t" style="left:28.80px;top:175.64px;font-size:12px;line-height:12px;letter-spacing:0.000px;color:#0d0d0d;">0%</div>
<div class="t" style="left:454.20px;top:58.39px;font-size:11px;line-height:11px;letter-spacing:-0.233px;color:#0d0d0d;">Yes</div>
<div class="t" style="left:454.20px;top:71.84px;font-size:11px;line-height:11px;letter-spacing:-0.233px;color:#0d0d0d;">No</div>
<div class="t" style="left:454.20px;top:85.29px;font-size:11px;line-height:11px;letter-spacing:-0.233px;color:#0d0d0d;">Unknown</div>
<div class="t" style="left:14.80px;top:215.38px;font-size:22px;line-height:22px;font-weight:bold;letter-spacing:0.000px;color:#000;transform:scaleX(0.920);transform-origin:1px 0;">B</div>
<div class="t" style="left:188.10px;top:220.86px;font-size:16px;line-height:16px;letter-spacing:0.927px;color:#0d0d0d;">Hypogonadism</div>
<div class="t" style="left:15.80px;top:254.14px;font-size:12px;line-height:12px;letter-spacing:0.000px;color:#0d0d0d;">100%</div>
<div class="t" style="left:22.80px;top:278.44px;font-size:12px;line-height:12px;letter-spacing:0.000px;color:#0d0d0d;">80%</div>
<div class="t" style="left:22.80px;top:302.74px;font-size:12px;line-height:12px;letter-spacing:0.000px;color:#0d0d0d;">60%</div>
<div class="t" style="left:22.80px;top:327.04px;font-size:12px;line-height:12px;letter-spacing:0.000px;color:#0d0d0d;">40%</div>
<div class="t" style="left:22.80px;top:351.34px;font-size:12px;line-height:12px;letter-spacing:0.000px;color:#0d0d0d;">20%</div>
<div class="t" style="left:28.80px;top:375.64px;font-size:12px;line-height:12px;letter-spacing:0.000px;color:#0d0d0d;">0%</div>
<div class="t" style="left:15.20px;top:414.58px;font-size:22px;line-height:22px;font-weight:bold;letter-spacing:0.000px;color:#000;transform:scaleX(0.919);transform-origin:0px 0;">C</div>
<div class="t" style="left:151.90px;top:420.66px;font-size:16px;line-height:16px;letter-spacing:0.814px;color:#0d0d0d;">Diabetes/hyperglycemia</div>
<div class="t" style="left:15.80px;top:454.14px;font-size:12px;line-height:12px;letter-spacing:0.000px;color:#0d0d0d;">100%</div>
<div class="t" style="left:22.80px;top:478.44px;font-size:12px;line-height:12px;letter-spacing:0.000px;color:#0d0d0d;">80%</div>
<div class="t" style="left:22.80px;top:502.74px;font-size:12px;line-height:12px;letter-spacing:0.000px;color:#0d0d0d;">60%</div>
<div class="t" style="left:22.80px;top:527.04px;font-size:12px;line-height:12px;letter-spacing:0.000px;color:#0d0d0d;">40%</div>
<div class="t" style="left:22.80px;top:551.34px;font-size:12px;line-height:12px;letter-spacing:0.000px;color:#0d0d0d;">20%</div>
<div class="t" style="left:28.80px;top:575.64px;font-size:12px;line-height:12px;letter-spacing:0.000px;color:#0d0d0d;">0%</div>
<div class="t" style="left:15.00px;top:614.78px;font-size:22px;line-height:22px;font-weight:bold;letter-spacing:0.000px;color:#000;transform:scaleX(1.040);transform-origin:1px 0;">D</div>
<div class="t" style="left:175.60px;top:620.66px;font-size:16px;line-height:16px;letter-spacing:0.862px;color:#0d0d0d;">Skin pigmentation</div>
<div class="t" style="left:15.80px;top:654.14px;font-size:12px;line-height:12px;letter-spacing:0.000px;color:#0d0d0d;">100%</div>
<div class="t" style="left:22.80px;top:678.44px;font-size:12px;line-height:12px;letter-spacing:0.000px;color:#0d0d0d;">80%</div>
<div class="t" style="left:22.80px;top:702.74px;font-size:12px;line-height:12px;letter-spacing:0.000px;color:#0d0d0d;">60%</div>
<div class="t" style="left:22.80px;top:727.04px;font-size:12px;line-height:12px;letter-spacing:0.000px;color:#0d0d0d;">40%</div>
<div class="t" style="left:22.80px;top:751.34px;font-size:12px;line-height:12px;letter-spacing:0.000px;color:#0d0d0d;">20%</div>
<div class="t" style="left:28.80px;top:775.64px;font-size:12px;line-height:12px;letter-spacing:0.000px;color:#0d0d0d;">0%</div>
<div class="t" style="left:15.00px;top:814.48px;font-size:22px;line-height:22px;font-weight:bold;letter-spacing:0.000px;color:#000;transform:scaleX(0.850);transform-origin:1px 0;">E</div>
<div class="t" style="left:166.20px;top:820.66px;font-size:16px;line-height:16px;letter-spacing:0.960px;color:#0d0d0d;">Arthritis/arthropathy</div>
<div class="t" style="left:15.80px;top:854.14px;font-size:12px;line-height:12px;letter-spacing:0.000px;color:#0d0d0d;">100%</div>
<div class="t" style="left:22.80px;top:878.44px;font-size:12px;line-height:12px;letter-spacing:0.000px;color:#0d0d0d;">80%</div>
<div class="t" style="left:22.80px;top:902.74px;font-size:12px;line-height:12px;letter-spacing:0.000px;color:#0d0d0d;">60%</div>
<div class="t" style="left:22.80px;top:927.04px;font-size:12px;line-height:12px;letter-spacing:0.000px;color:#0d0d0d;">40%</div>
<div class="t" style="left:22.80px;top:951.34px;font-size:12px;line-height:12px;letter-spacing:0.000px;color:#0d0d0d;">20%</div>
<div class="t" style="left:28.80px;top:975.64px;font-size:12px;line-height:12px;letter-spacing:0.000px;color:#0d0d0d;">0%</div>
<div class="t" style="left:15.20px;top:1019.88px;font-size:22px;line-height:22px;font-weight:bold;letter-spacing:0.000px;color:#000;transform:scaleX(0.917);transform-origin:1px 0;">F</div>
<div class="t" style="left:198.90px;top:1020.36px;font-size:16px;line-height:16px;letter-spacing:0.438px;color:#0d0d0d;">Liver fibrosis</div>
<div class="t" style="left:15.80px;top:1054.14px;font-size:12px;line-height:12px;letter-spacing:0.000px;color:#0d0d0d;">100%</div>
<div class="t" style="left:22.80px;top:1078.44px;font-size:12px;line-height:12px;letter-spacing:0.000px;color:#0d0d0d;">80%</div>
<div class="t" style="left:22.80px;top:1102.74px;font-size:12px;line-height:12px;letter-spacing:0.000px;color:#0d0d0d;">60%</div>
<div class="t" style="left:22.80px;top:1127.04px;font-size:12px;line-height:12px;letter-spacing:0.000px;color:#0d0d0d;">40%</div>
<div class="t" style="left:22.80px;top:1151.34px;font-size:12px;line-height:12px;letter-spacing:0.000px;color:#0d0d0d;">20%</div>
<div class="t" style="left:28.80px;top:1175.64px;font-size:12px;line-height:12px;letter-spacing:0.000px;color:#0d0d0d;">0%</div>
<div class="t" style="left:453.70px;top:1058.99px;font-size:11px;line-height:11px;letter-spacing:-0.050px;color:#0d0d0d;">Cirrhosis</div>
<div class="t" style="left:453.70px;top:1072.44px;font-size:11px;line-height:11px;letter-spacing:-0.050px;color:#0d0d0d;">Fibrosis</div>
<div class="t" style="left:453.70px;top:1085.89px;font-size:11px;line-height:11px;letter-spacing:-0.050px;color:#0d0d0d;">No fibrosis</div>
<div class="t" style="left:453.70px;top:1099.34px;font-size:11px;line-height:11px;letter-spacing:-0.050px;color:#0d0d0d;">Unknown</div>
<div class="t" style="left:94.60px;top:1187.80px;font-size:13px;line-height:13px;letter-spacing:0.000px;color:#0d0d0d;transform:scaleX(0.873);transform-origin:0px 0;">99</div>
<div class="t" style="left:89.20px;top:1208.00px;font-size:13px;line-height:13px;letter-spacing:0.000px;color:#0d0d0d;transform:scaleX(0.968);transform-origin:0px 0;">HJV</div>
<div class="t" style="left:166.70px;top:1187.80px;font-size:13px;line-height:13px;letter-spacing:0.000px;color:#0d0d0d;">11</div>
<div class="t" style="left:155.40px;top:1208.00px;font-size:13px;line-height:13px;letter-spacing:-0.100px;color:#0d0d0d;">HAMP</div>
<div class="t" style="left:240.00px;top:1187.80px;font-size:13px;line-height:13px;letter-spacing:0.000px;color:#0d0d0d;transform:scaleX(0.873);transform-origin:0px 0;">46</div>
<div class="t" style="left:231.50px;top:1208.00px;font-size:13px;line-height:13px;letter-spacing:0.000px;color:#0d0d0d;transform:scaleX(0.906);transform-origin:0px 0;">TFR2</div>
<div class="t" style="left:307.80px;top:1187.80px;font-size:13px;line-height:13px;letter-spacing:0.100px;color:#0d0d0d;">558</div>
<div class="t" style="left:293.80px;top:1208.00px;font-size:13px;line-height:13px;letter-spacing:0.200px;color:#0d0d0d;">Proband</div>
<div class="t" style="left:380.80px;top:1187.80px;font-size:13px;line-height:13px;letter-spacing:0.200px;color:#0d0d0d;">426</div>
<div class="t" style="left:352.30px;top:1208.00px;font-size:13px;line-height:13px;letter-spacing:0.400px;color:#0d0d0d;">Non-proband</div>
<div class="t" style="left:434.20px;top:1187.90px;font-size:13px;line-height:13px;letter-spacing:0.160px;color:#0d0d0d;">n per group</div>
<div class="t" style="left:344.60px;top:1234.50px;font-size:13px;line-height:13px;letter-spacing:0.000px;color:#0d0d0d;transform:scaleX(0.862);transform-origin:0px 0;">HFE</div>
<div class="frame"></div>
</body></html>
